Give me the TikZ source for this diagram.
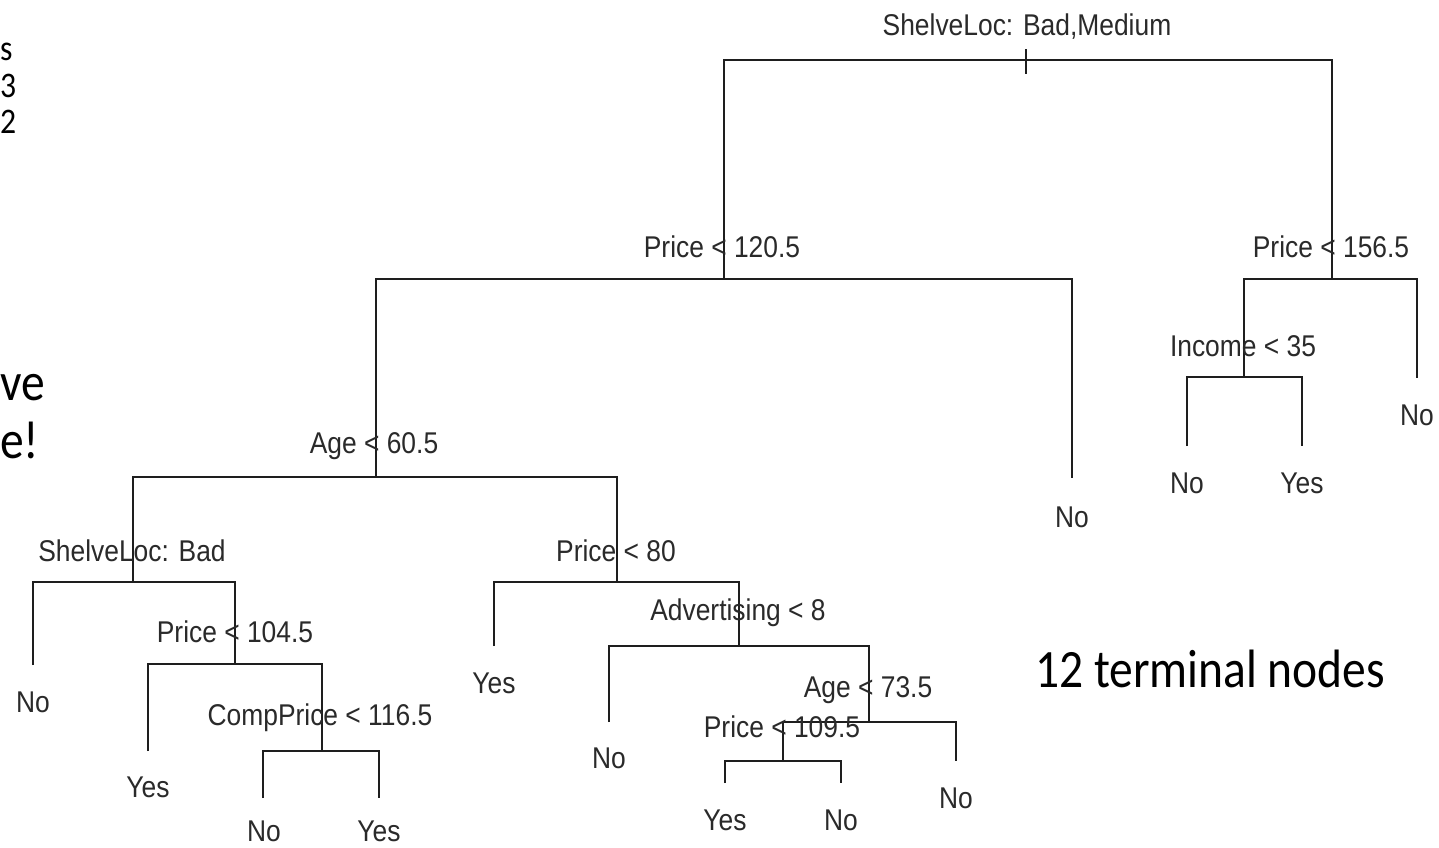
\documentclass[tikz,border=0pt]{standalone}
\usepackage{fontspec}
\setmainfont{Liberation Sans}[FakeStretch=0.88]
\newfontfamily\calib{Carlito}[FakeStretch=0.88]
\definecolor{linecol}{HTML}{1E1E1E}
\definecolor{txtcol}{HTML}{2A2A2A}
\begin{document}
\begin{tikzpicture}[x=1pt,y=-1pt,
  tree/.style={draw=linecol, line width=2pt},
  lab/.style={anchor=base, inner sep=0pt, font=\fontsize{30}{34}\selectfont, text=txtcol},
  side/.style={anchor=base west, inner sep=0pt, font=\calib\fontsize{54}{60}\selectfont, text=black},
  frag/.style={anchor=base west, inner sep=0pt, font=\calib\fontsize{36}{40}\selectfont, text=black}]
\useasboundingbox (0,0) rectangle (1439,847);
\fill[white] (0,0) rectangle (1439,847);

% split points and leaf ends
\coordinate (n1) at (1026,60);
\coordinate (t1) at (1026,49);
\coordinate (t2) at (1026,74);
\coordinate (n2) at (724,279);
\coordinate (n3) at (1332,279);
\coordinate (n4) at (376,477);
\coordinate (l5) at (1072,478);
\coordinate (n6) at (1244,377);
\coordinate (l7) at (1417,378);
\coordinate (l12) at (1187,446);
\coordinate (l13) at (1302,446);
\coordinate (n8) at (133,582);
\coordinate (n9) at (617,582);
\coordinate (l16) at (33,665);
\coordinate (n17) at (235,664);
\coordinate (l34) at (148,751);
\coordinate (n35) at (322,751);
\coordinate (l70) at (263,798);
\coordinate (l71) at (379,798);
\coordinate (l18) at (494,646);
\coordinate (n19) at (739,646);
\coordinate (l38) at (609,722);
\coordinate (n39) at (869,722);
\coordinate (n78) at (783,761);
\coordinate (l79) at (956,761);
\coordinate (l156) at (725,783);
\coordinate (l157) at (841,783);

% branches
\draw[tree] (t1) -- (t2);
\draw[tree] (n2) |- (n1) -| (n3);
\draw[tree] (n4) |- (n2) -| (l5);
\draw[tree] (n6) |- (n3) -| (l7);
\draw[tree] (l12) |- (n6) -| (l13);
\draw[tree] (n8) |- (n4) -| (n9);
\draw[tree] (l16) |- (n8) -| (n17);
\draw[tree] (l34) |- (n17) -| (n35);
\draw[tree] (l70) |- (n35) -| (l71);
\draw[tree] (l18) |- (n9) -| (n19);
\draw[tree] (l38) |- (n19) -| (n39);
\draw[tree] (n78) |- (n39) -| (l79);
\draw[tree] (l156) |- (n78) -| (l157);

% split labels
\node[lab] (s1) at (1027,35.7) {ShelveLoc: Bad,Medium};
\node[lab] (s2) at (722,257.7) {Price < 120.5};
\node[lab] (s3) at (1331,257.7) {Price < 156.5};
\node[lab] (s6) at (1243,356.7) {Income < 35};
\node[lab] (s4) at (374,453.7) {Age < 60.5};
\node[lab] (s8) at (132,561.7) {ShelveLoc: Bad};
\node[lab] (s9) at (616,561.7) {Price < 80};
\node[lab] (s19) at (738,620.7) {Advertising < 8};
\node[lab] (s17) at (235,642.7) {Price < 104.5};
\node[lab] (s39) at (868,697.7) {Age < 73.5};
\node[lab] (s35) at (320,725.7) {CompPrice < 116.5};
\node[lab] (s78) at (782,737.7) {Price < 109.5};

% leaf labels
\node[lab] (f5) at (1072,527.7) {No};
\node[lab] (f7) at (1417,425.7) {No};
\node[lab] (f12) at (1187,493.7) {No};
\node[lab] (f13) at (1302,493.7) {Yes};
\node[lab] (f16) at (33,712.7) {No};
\node[lab] (f34) at (148,797.7) {Yes};
\node[lab] (f70) at (264,841) {No};
\node[lab] (f71) at (379,841) {Yes};
\node[lab] (f18) at (494,693.7) {Yes};
\node[lab] (f38) at (609,768.7) {No};
\node[lab] (f79) at (956,808.7) {No};
\node[lab] (f156) at (725,830.7) {Yes};
\node[lab] (f157) at (841,830.7) {No};

% side texts
\node[side] (term) at (1035,687) {12 terminal nodes};
\node[side] (ve) at (0,400) {ve};
\node[side] (ex) at (0,458) {e!};
\node[frag] (fs) at (0,60) {s};
\node[frag] (f3) at (0,97) {3};
\node[frag] (f2) at (0,133) {2};
\end{tikzpicture}
\end{document}
